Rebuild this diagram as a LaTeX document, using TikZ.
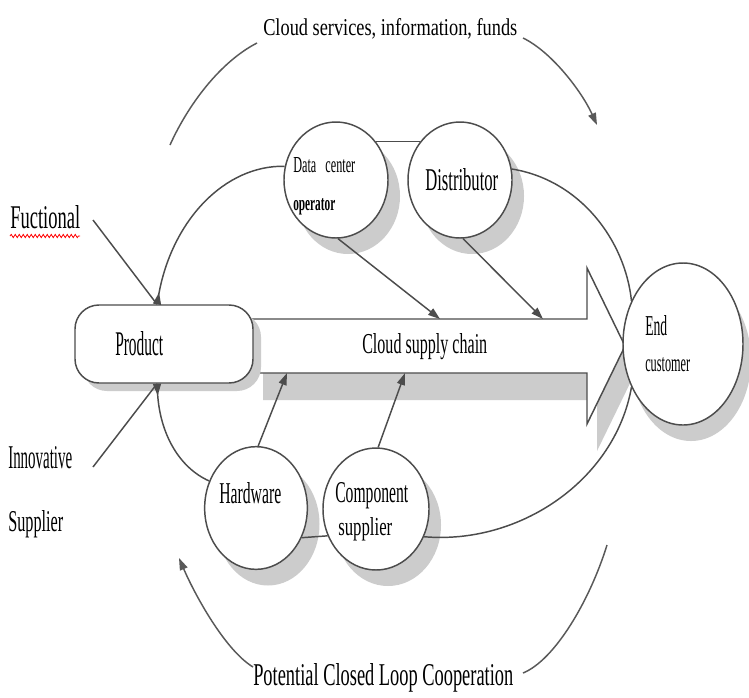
\documentclass[tikz,border=0pt]{standalone}
\usepackage{fontspec}
\setmainfont{Liberation Serif}
\usepackage{graphicx}
\usetikzlibrary{arrows.meta,shapes.geometric,decorations.pathmorphing}
\pgfdeclarelayer{back}
\pgfsetlayers{back,main}
% one unit of the drawing
\newlength\pxu \setlength\pxu{0.75pt}
% text squeezed to a given width and height (in drawing units)
\newcommand\fitt[3]{\resizebox{#1\pxu}{#2\pxu}{#3}}

\begin{document}
\begin{tikzpicture}[x=0.75pt,y=-0.75pt,
  ln/.style={draw=black!70,line width=1.1pt},
  arc/.style={draw=black!65,line width=1.1pt},
  tipx/.style={-{Triangle[length=9pt,width=6pt]}},
  rtip/.style={{Triangle[reversed,length=9pt,width=6pt]}-},
  shd/.style={fill=black!20},
  bubble/.style={ellipse,draw=black!70,line width=1.1pt,fill=white,inner sep=0pt},
  txt/.style={inner sep=0pt,anchor=base west}]

\useasboundingbox (0,0) rectangle (749,697);

\begin{pgfonlayer}{back}
  \fill[white] (0,0) rectangle (749,697);
  % supply chain arrow with its shadow
  \fill[shd,shift={(10,27)}] (253,319) -- (587,319) -- (587,268) -- (625,346)
     -- (587,424) -- (587,373) -- (253,373) -- cycle;
  \filldraw[fill=white,draw=black!70,line width=1.1pt]
     (240,319) -- (587,319) -- (587,268) -- (625,346)
     -- (587,424) -- (587,373) -- (240,373) -- cycle;
  % shadows of the boxes
  \fill[shd,rounded corners=18pt] (83,313) rectangle (261,391);
  \fill[shd] (348,196) ellipse [x radius=52,y radius=58];
  \fill[shd] (472,196) ellipse [x radius=52,y radius=58];
  \fill[shd] (268,524) ellipse [x radius=51.5,y radius=61.5];
  \fill[shd] (388,525) ellipse [x radius=53,y radius=61];
  \fill[shd] (691,360) ellipse [x radius=60,y radius=81];
\end{pgfonlayer}

% boxes
\node[draw=black!70,line width=1.1pt,fill=white,rounded corners=18pt,
      minimum width=133.5pt,minimum height=58.5pt,inner sep=0pt] (prod) at (164,344) {};
\node[bubble,minimum width=78pt,minimum height=87pt] (dc) at (336,180) {};
\node[bubble,minimum width=78pt,minimum height=87pt] (ds) at (460,180) {};
\node[bubble,minimum width=77pt,minimum height=92pt] (hw) at (256,508) {};
\node[bubble,minimum width=79.5pt,minimum height=91.5pt] (cs) at (376,509) {};
\node[bubble,minimum width=90pt,minimum height=121.5pt] (ec) at (683,344) {};

% labels
\node[txt] (top) at (263,35) {\fitt{254}{17}{Cloud services, information, funds}};
\node[txt] (bot) at (253,685) {\fitt{260}{22}{Potential Closed Loop Cooperation}};
\node[txt] (fuc) at (10,228) {\fitt{70}{23}{Fuctional}};
\node[txt] (inn) at (8,468) {\fitt{64}{22}{Innovative}};
\node[txt] (sup) at (8,531) {\fitt{55}{21}{Supplier}};
\node[txt] (prodt) at (115,355) {\fitt{48}{24}{Product}};
\node[txt] (csc) at (362,353) {\fitt{125}{20}{Cloud supply chain}};
\node[txt] (dct1) at (293,172) {\fitt{62}{15}{Data\ \ \ center}};
\node[txt] (dct2) at (293,210) {\fitt{42}{12}{\bfseries operator}};
\node[txt] (dst) at (425,190) {\fitt{73}{22}{Distributor}};
\node[txt] (ect1) at (645,335) {\fitt{22}{20}{End}};
\node[txt] (ect2) at (645,371) {\fitt{45}{14}{customer}};
\node[txt] (hwt) at (219,503) {\fitt{62}{21}{Hardware}};
\node[txt] (cst1) at (335,502) {\fitt{73}{20}{Component}};
\node[txt] (cst2) at (338,535) {\fitt{54}{18}{supplier}};

% spell-check wave under the first label
\draw[red,line width=0.6pt,decorate,decoration={snake,amplitude=1.2pt,segment length=3pt}]
  (fuc.base west) ++(0,8) -- ++(70,0);

% free ends of the connectors
\coordinate (f0) at (93,220);
\coordinate (i0) at (93,467);
\coordinate (a1) at (440,319);
\coordinate (a2) at (543,319);
\coordinate (a3) at (287,373);
\coordinate (a4) at (405,373);
\coordinate (o1) at (170,145);
\coordinate (o2) at (257,43);
\coordinate (o3) at (523,38);
\coordinate (o4) at (597,125);
\coordinate (u1) at (253,667);
\coordinate (u2) at (179,558);
\coordinate (u3) at (523,673);
\coordinate (u4) at (607,545);

% inner loop through the partners
\draw[ln,rtip] (prod.100) .. controls (172,220) and (225,165) .. (dc.165);
\draw[ln] (dc.44) -- (ds.136);
\draw[ln] (ds.12) .. controls (580,180) and (625,240) .. (ec.140);
\draw[ln,rtip] (prod.260) .. controls (160,435) and (180,468) .. (hw.150);
\draw[ln] (hw.-33) -- (cs.-151);
\draw[ln] (cs.-30) .. controls (520,545) and (615,480) .. (ec.220);

% inputs to the product
\draw[ln] (f0) -- (prod.100);
\draw[ln] (i0) -- (prod.260);

% partners feeding the supply chain
\draw[ln,tipx] (dc.-88) -- (a1);
\draw[ln,tipx] (ds.-87) -- (a2);
\draw[ln,tipx] (hw.88) -- (a3);
\draw[ln,tipx] (cs.88) -- (a4);

% outer flows
\draw[arc] (o1) .. controls (188,105) and (220,62) .. (o2);
\draw[arc,tipx] (o3) .. controls (552,52) and (582,92) .. (o4);
\draw[arc,tipx] (u1) .. controls (225,650) and (195,595) .. (u2);
\draw[arc] (u3) .. controls (555,660) and (590,600) .. (u4);
\end{tikzpicture}
\end{document}
